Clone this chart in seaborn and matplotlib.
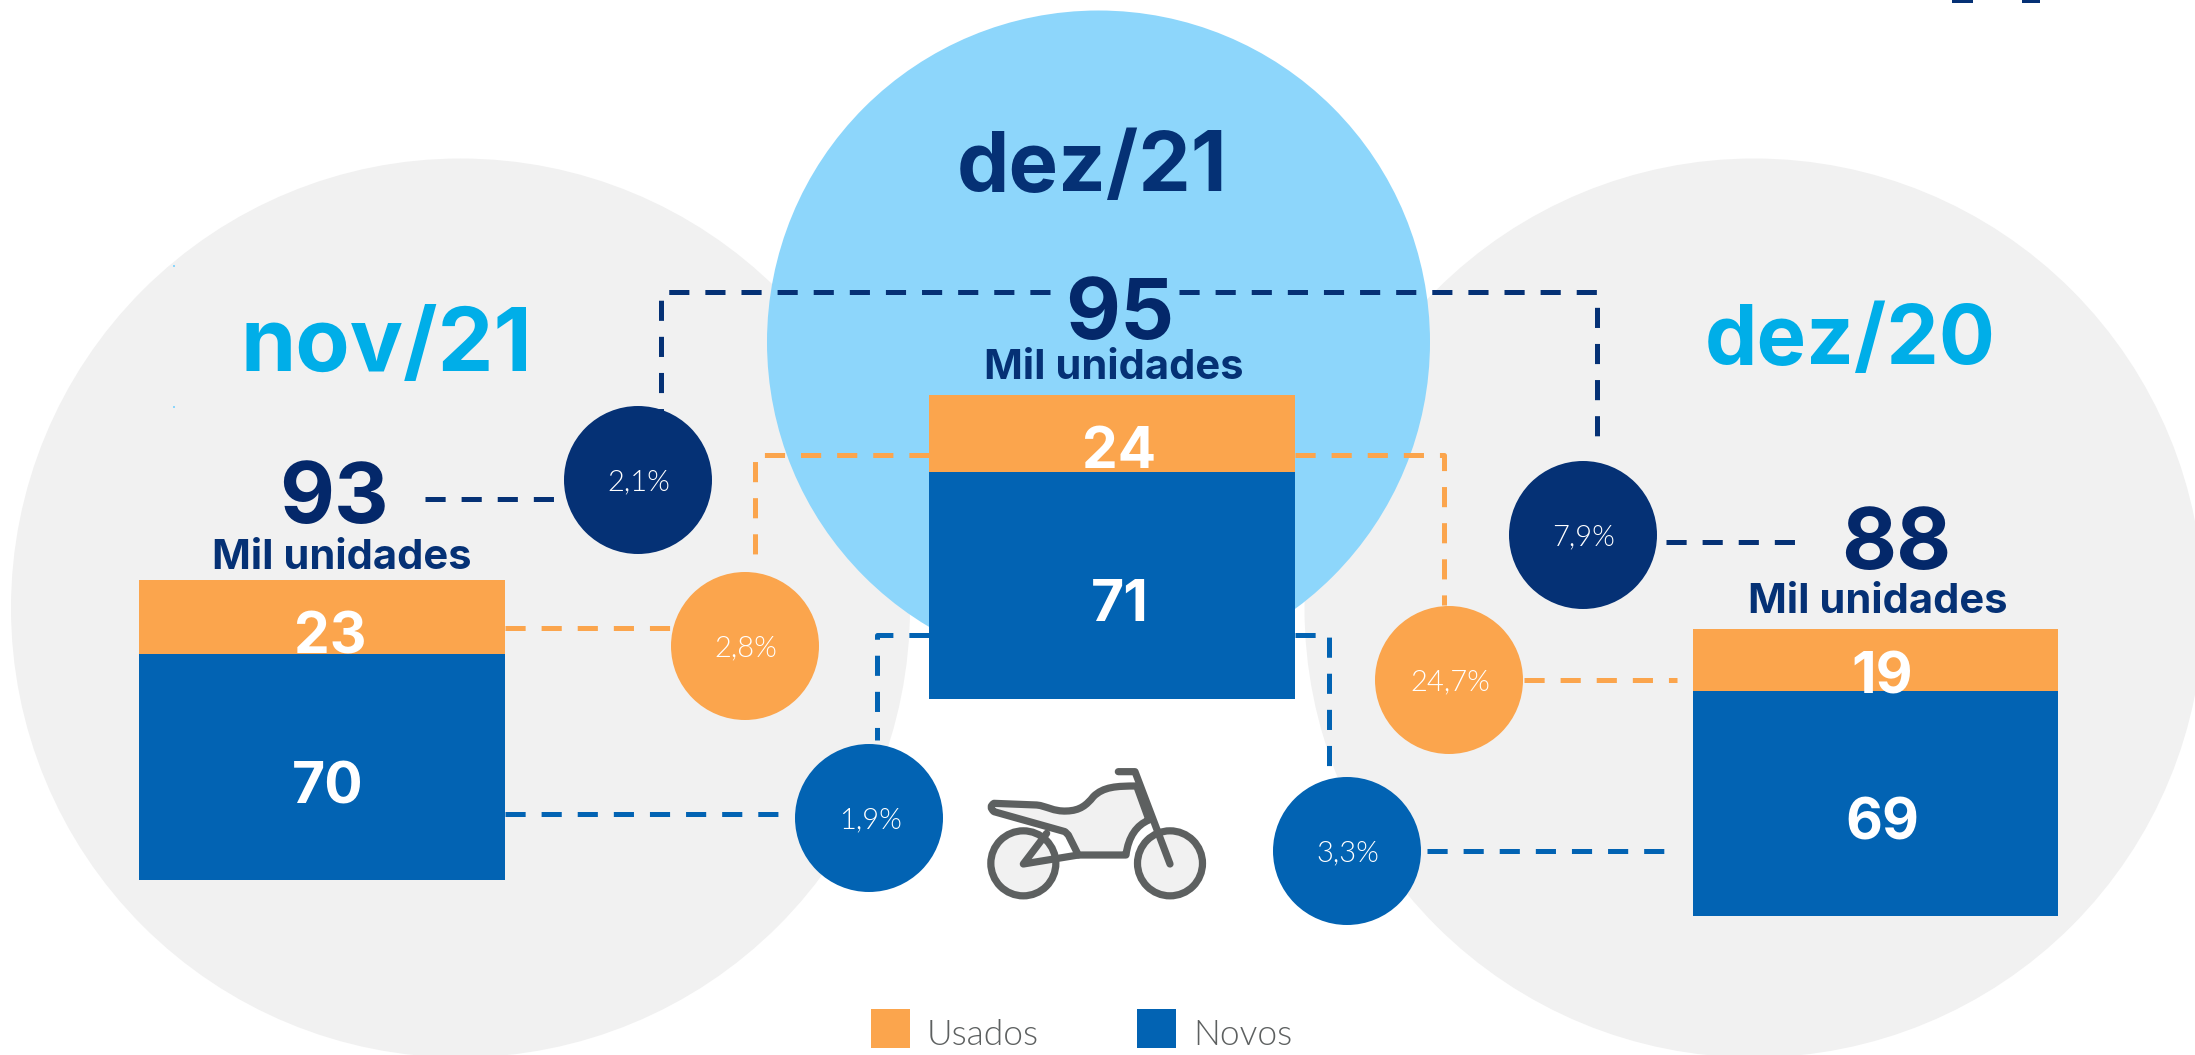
import pandas as pd
import seaborn as sns
import matplotlib.pyplot as plt
from matplotlib import font_manager
from matplotlib.patches import Circle, Rectangle, PathPatch
from matplotlib.path import Path

# values
periods = ['nov/21', 'dez/21', 'dez/20']
usados = [23, 24, 19]
novos = [70, 71, 69]
totals = [93, 95, 88]
unit_label = 'Mil unidades'
total_var = ['2,1%', '7,9%']
usados_var = ['2,8%', '24,7%']
novos_var = ['1,9%', '3,3%']
legend_labels = ['Usados', 'Novos']

ORANGE = '#FBA54D'
BLUE = '#0263B3'
NAVY = '#053175'
DARK = '#04286A'
CYAN = '#00AEE8'
SKY = '#8DD6FB'
LIGHT = '#F1F1F1'
GREY = '#5D6060'

W, H = 2195, 1055

sns.set_theme(style='white')
plt.rcParams['font.family'] = ['Inter', 'DejaVu Sans']
plt.rcParams['lines.scale_dashes'] = False

# matplotlib picks Lato Hairline for weight light, so look the file up by name
light_files = [f.fname for f in font_manager.fontManager.ttflist
               if f.name == 'Lato' and f.fname.endswith('Lato-Light.ttf')]
if light_files:
    light_font = font_manager.FontProperties(fname=light_files[0])
else:
    light_font = font_manager.FontProperties(family='Lato')

fig = plt.figure(figsize=(W / 100, H / 100), dpi=100, facecolor='white')


def px_axes(zorder):
    a = fig.add_axes([0, 0, 1, 1], zorder=zorder)
    a.set_xlim(0, W)
    a.set_ylim(H, 0)
    a.axis('off')
    a.patch.set_alpha(0)
    return a


back = px_axes(0)
front = px_axes(2)

# big background circles
back.add_patch(Circle((460.5, 608), 449.5, fc=LIGHT, ec='none'))
back.add_patch(Circle((1754, 608), 449.5, fc=LIGHT, ec='none'))
back.add_patch(Circle((1098.5, 342), 331.5, fc=SKY, ec='none'))

# stacked bars, one small axes each because the baselines differ
bar_boxes = [(139, 505, 580, 880), (929, 1295, 395, 698.5), (1693, 2058, 629, 915.5)]
for i, (x0, x1, y0, y1) in enumerate(bar_boxes):
    ax = fig.add_axes([x0 / W, 1 - y1 / H, (x1 - x0) / W, (y1 - y0) / H], zorder=1)
    df = pd.DataFrame({'mes': [periods[i]], 'total': [totals[i]], 'novos': [novos[i]]})
    sns.barplot(data=df, x='mes', y='total', color=ORANGE, saturation=1, width=1, linewidth=0, ax=ax)
    sns.barplot(data=df, x='mes', y='novos', color=BLUE, saturation=1, width=1, linewidth=0, ax=ax)
    ax.set_xlim(-0.5, 0.5)
    ax.set_ylim(0, totals[i])
    ax.axis('off')


def dashed(pts, color):
    xs, ys = zip(*pts)
    front.plot(xs, ys, color=color, lw=3.6, ls=(0, (14.5, 11.5)), dash_capstyle='butt',
               solid_joinstyle='miter', zorder=1)


# connectors
dashed([(1050, 292), (661, 292), (661, 420)], NAVY)
dashed([(1179, 292), (1597, 292), (1597, 447)], NAVY)
dashed([(425, 498.5), (558, 498.5)], NAVY)
dashed([(1666, 542), (1798, 542)], NAVY)
dashed([(505, 628), (672, 628)], ORANGE)
dashed([(929, 455), (755, 455), (755, 565)], ORANGE)
dashed([(1295, 455), (1443.5, 455), (1443.5, 605)], ORANGE)
dashed([(1524, 680), (1677, 680)], ORANGE)
dashed([(505, 813.5), (790, 813.5)], BLUE)
dashed([(929, 634.5), (877, 634.5), (877, 740)], BLUE)
dashed([(1295, 634.5), (1329, 634.5), (1329, 780)], BLUE)
dashed([(1427, 850.5), (1669, 850.5)], BLUE)

# variation bubbles
bubbles = [
    (638, 480, NAVY, total_var[0]),
    (1583, 535, NAVY, total_var[1]),
    (745, 646, ORANGE, usados_var[0]),
    (1449, 680, ORANGE, usados_var[1]),
    (869, 818, BLUE, novos_var[0]),
    (1347, 851, BLUE, novos_var[1]),
]
for x, y, c, label_txt in bubbles:
    front.add_patch(Circle((x, y), 74, fc=c, ec='none', zorder=2))
    front.text(x + 1, y + 2, label_txt, color='white', fontproperties=light_font, fontsize=21,
               ha='center', va='center', zorder=3)


def label(x, y, s, size, color, weight='bold'):
    front.text(x, y, s, fontsize=size, color=color, fontweight=weight,
               ha='center', va='center', zorder=3)


# period titles
label(386, 348, periods[0], 64, CYAN)
label(1092, 169, periods[1], 60, NAVY)
label(1850, 342, periods[2], 60, CYAN)

# totals and units
label(334, 500, str(totals[0]), 61, DARK)
label(1120, 316, str(totals[1]), 61, DARK)
label(1896, 547, str(totals[2]), 61, DARK)
label(342, 558, unit_label, 30, NAVY)
label(1114, 368, unit_label, 30, NAVY)
label(1878, 602, unit_label, 30, NAVY)

# bar values
label(330, 638, str(usados[0]), 41, 'white')
label(328, 788, str(novos[0]), 41, 'white')
label(1119, 453, str(usados[1]), 41, 'white')
label(1120, 606, str(novos[1]), 41, 'white')
label(1882, 679, str(usados[2]), 41, 'white')
label(1882, 824, str(novos[2]), 41, 'white')


def bx(x):
    return 850 + x / 3


def by(y):
    return 740 + y / 3


def bike_path(pts, codes):
    return Path([(bx(x), by(y)) for x, y in pts], codes)


lw_bike = 5.2
for cx in (520, 960):
    front.add_patch(Circle((bx(cx), by(370)), 32.5, fc=LIGHT, ec=GREY, lw=lw_bike, zorder=2))

body_pts = [(432, 190), (560, 195), (590, 198), (610, 215), (650, 213), (690, 212), (710, 195),
            (730, 170), (760, 140), (800, 138), (860, 138), (897, 240), (860, 255), (835, 290),
            (828, 345), (685, 345), (655, 285), (645, 275), (432, 215), (415, 200), (432, 190),
            (432, 190)]
body_codes = [Path.MOVETO, Path.LINETO, Path.CURVE4, Path.CURVE4, Path.CURVE4, Path.CURVE4,
              Path.CURVE4, Path.CURVE4, Path.CURVE4, Path.CURVE4, Path.CURVE4, Path.LINETO,
              Path.CURVE4, Path.CURVE4, Path.CURVE4, Path.LINETO, Path.LINETO, Path.LINETO,
              Path.LINETO, Path.CURVE3, Path.CURVE3, Path.CLOSEPOLY]
front.add_patch(PathPatch(bike_path(body_pts, body_codes), fc=LIGHT, ec=GREY, lw=lw_bike,
                          joinstyle='round', zorder=2.1))
# fork and handlebar
front.add_patch(PathPatch(bike_path([(805, 95), (855, 95), (960, 372)],
                                    [Path.MOVETO, Path.LINETO, Path.LINETO]),
                          fc='none', ec=GREY, lw=lw_bike, capstyle='round', joinstyle='round', zorder=2.2))
# rear triangle
front.add_patch(PathPatch(bike_path([(590, 280), (520, 372), (685, 345)],
                                    [Path.MOVETO, Path.LINETO, Path.LINETO]),
                          fc='none', ec=GREY, lw=lw_bike, capstyle='round', joinstyle='round', zorder=2.2))

# legend
for x0, c, name in ((871, ORANGE, legend_labels[0]), (1137, BLUE, legend_labels[1])):
    front.add_patch(Rectangle((x0, 1009), 39, 39, fc=c, ec='none', zorder=2))
    front.text(x0 + 56, 1035, name, fontproperties=light_font, fontsize=25.5, color=GREY,
               ha='left', va='center', zorder=3)

# clipped bits of a logo at the top right edge, and two stray specks
front.add_patch(Rectangle((1952, 0), 21, 3, fc=NAVY, ec='none', zorder=2))
front.add_patch(Rectangle((2022, 0), 18, 3, fc=NAVY, ec='none', zorder=2))
front.add_patch(Rectangle((173, 265), 2, 2, fc=SKY, ec='none', zorder=2))
front.add_patch(Rectangle((173, 406), 2, 2, fc=SKY, ec='none', zorder=2))

plt.savefig('out.png', dpi=100)
